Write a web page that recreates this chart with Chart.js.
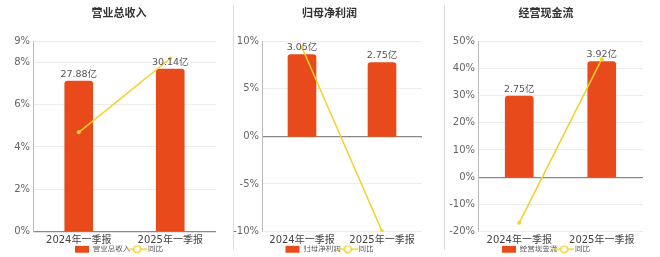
<!DOCTYPE html>
<html>
<head>
<meta charset="utf-8">
<script src="https://cdn.jsdelivr.net/npm/chart.js@4"></script>
<style>
  body { margin: 0; background: #fff; }
  #wrap { position: relative; width: 660px; height: 257px; overflow: hidden; }
  canvas { position: absolute; top: 0; }
  .sep { position: absolute; top: 5px; width: 1px; height: 245px; background: #ddd; }
</style>
</head>
<body>
<div id="wrap">
  <div class="sep" style="left:233px"></div>
  <div class="sep" style="left:444px"></div>
  <canvas id="c1" width="238" height="257" style="left:0px"></canvas>
  <canvas id="c2" width="193" height="257" style="left:233px"></canvas>
  <canvas id="c3" width="204" height="257" style="left:444px"></canvas>
</div>
<script>
const categories = ["2024年一季报", "2025年一季报"];

const revenue = [27.88, 30.14];
const revenueYoy = [4.69, 8.18];
const revenueTicks = [0, 2, 4, 6, 8, 9];

const netProfit = [3.05, 2.75];
const netProfitYoy = [9.34, -9.98];
const netProfitTicks = [-10, -5, 0, 5, 10];

const cashFlow = [2.75, 3.92];
const cashFlowYoy = [-16.8, 43.4];
const cashFlowTicks = [-20, -10, 0, 10, 20, 30, 40, 50];

const BAR = "#e84a1b";
const LINE = "#f3d02a";
const FONT = '"DejaVu Sans", "Noto Sans CJK SC", sans-serif';

// legend icon for the yoy line: short line with hollow circle
const lineIcon = document.createElement("canvas");
lineIcon.width = 20;
lineIcon.height = 10;
(function () {
  const g = lineIcon.getContext("2d");
  g.strokeStyle = LINE;
  g.lineWidth = 1.5;
  g.beginPath();
  g.moveTo(0, 5);
  g.lineTo(20, 5);
  g.stroke();
  g.fillStyle = "#fff";
  g.beginPath();
  g.arc(10, 5, 3.5, 0, Math.PI * 2);
  g.fill();
  g.stroke();
})();

const barLabels = {
  id: "barLabels",
  afterDatasetsDraw(chart) {
    const ctx = chart.ctx;
    const meta = chart.getDatasetMeta(0);
    ctx.save();
    ctx.font = "9.5px " + FONT;
    ctx.fillStyle = "#555";
    ctx.textAlign = "center";
    ctx.textBaseline = "bottom";
    meta.data.forEach((bar, i) => {
      const v = chart.data.datasets[0].data[i];
      ctx.fillText(v.toFixed(2) + "亿", bar.x, bar.y - 2);
    });
    ctx.restore();
  }
};

function makeChart(id, title, barName, bars, yoy, ticks, barMin, barMax, leftW, rightW) {
  const ctx = document.getElementById(id).getContext("2d");
  return new Chart(ctx, {
    type: "bar",
    data: {
      labels: categories,
      datasets: [{
        type: "bar",
        label: barName,
        data: bars,
        yAxisID: "y1",
        backgroundColor: BAR,
        borderWidth: 0,
        borderRadius: { topLeft: 3, topRight: 3 },
        borderSkipped: "bottom",
        barThickness: 28,
        order: 1
      }, {
        type: "line",
        label: "同比",
        data: yoy,
        yAxisID: "y",
        borderColor: LINE,
        backgroundColor: LINE,
        borderWidth: 1.5,
        pointRadius: 2,
        pointBackgroundColor: LINE,
        pointBorderWidth: 0,
        tension: 0,
        order: 0
      }]
    },
    options: {
      responsive: false,
      animation: false,
      devicePixelRatio: 1,
      layout: { padding: { top: 0, bottom: -6, left: 0, right: 0 } },
      plugins: {
        title: {
          display: true,
          text: title,
          color: "#333",
          font: { family: FONT, size: 11, weight: "bold" },
          padding: { top: 8, bottom: 20 }
        },
        legend: {
          position: "bottom",
          labels: {
            usePointStyle: true,
            pointStyleWidth: 14,
            boxHeight: 7,
            padding: 0,
            color: "#555",
            font: { family: FONT, size: 7.5 },
            generateLabels(chart) {
              const items = Chart.defaults.plugins.legend.labels.generateLabels(chart);
              items.sort((a, b) => a.datasetIndex - b.datasetIndex);
              items.forEach(it => {
                it.pointStyle = it.datasetIndex === 1 ? lineIcon : "rect";
                if (it.datasetIndex === 0) it.lineWidth = 0;
              });
              return items;
            }
          }
        },
        tooltip: { enabled: false }
      },
      scales: {
        x: {
          grid: { display: false, drawTicks: false },
          border: { display: false },
          ticks: { color: "#444", font: { family: FONT, size: 10 }, padding: 3, maxRotation: 0 },
          afterFit(s) { s.height = 14; }
        },
        y: {
          position: "left",
          min: ticks[0],
          max: ticks[ticks.length - 1],
          afterBuildTicks(s) { s.ticks = ticks.map(v => ({ value: v })); },
          grid: {
            drawTicks: false,
            color: c => (c.tick && c.tick.value === 0 ? "#888" : "#ececec"),
            lineWidth: c => (c.tick && c.tick.value === 0 ? 1.2 : 1)
          },
          border: { display: true, color: "#bbb" },
          ticks: {
            color: "#666",
            padding: 3,
            font: { family: FONT, size: 10 },
            callback: v => v + "%"
          },
          afterFit(s) { s.width = leftW; }
        },
        y1: {
          position: "right",
          min: barMin,
          max: barMax,
          grid: { display: false },
          border: { display: false },
          ticks: { display: false },
          afterFit(s) { s.width = rightW; }
        }
      }
    },
    plugins: [barLabels]
  });
}

makeChart("c1", "营业总收入", "营业总收入", revenue, revenueYoy, revenueTicks, 0, 35.3, 33, 22);
makeChart("c2", "归母净利润", "归母净利润", netProfit, netProfitYoy, netProfitTicks, -3.55, 3.55, 29, 0);
makeChart("c3", "经营现金流", "经营现金流", cashFlow, cashFlowYoy, cashFlowTicks, -1.845, 4.61, 34, 5);
</script>
</body>
</html>
